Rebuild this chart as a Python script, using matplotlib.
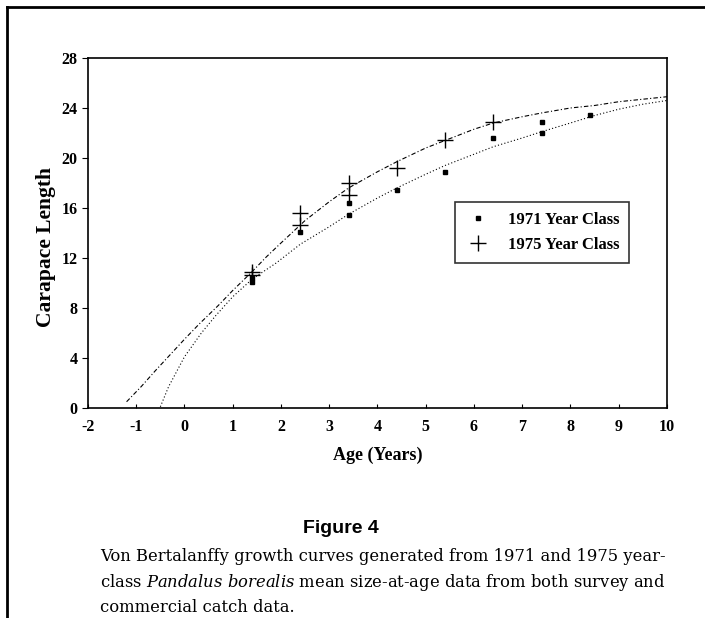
import matplotlib.pyplot as plt
from matplotlib.lines import Line2D

plt.rcParams["axes.unicode_minus"] = False
plt.rcParams["mathtext.fontset"] = "custom"
plt.rcParams["mathtext.it"] = "DejaVu Serif:italic"
plt.rcParams["mathtext.rm"] = "DejaVu Serif"

age_1971 = [1.4, 1.4, 2.4, 3.4, 3.4, 4.4, 5.4, 6.4, 7.4, 7.4, 8.4]
len_1971 = [10.1, 10.4, 14.1, 15.4, 16.4, 17.4, 18.9, 21.6, 22.0, 22.9, 23.4]

age_1975 = [1.4, 1.4, 2.4, 2.4, 3.4, 3.4, 4.4, 5.4, 6.4]
len_1975 = [10.6, 10.9, 14.6, 15.6, 17.0, 18.0, 19.2, 21.4, 22.9]

# fitted growth curves
curve_age_1975 = [-1.2, -0.9, -0.6, 0.0, 0.3, 0.7, 1.0, 1.4, 1.7, 2.0, 2.5, 3.0, 3.4,
                  4.0, 4.4, 5.0, 5.4, 6.0, 6.4, 7.0, 7.4, 8.0, 8.5, 9.0, 9.5, 10.0]
curve_len_1975 = [0.5, 1.7, 3.0, 5.5, 6.7, 8.2, 9.4, 10.9, 12.1, 13.2, 15.0, 16.5, 17.6,
                  18.9, 19.7, 20.8, 21.4, 22.3, 22.8, 23.3, 23.6, 24.0, 24.2, 24.5, 24.7, 24.9]

curve_age_1971 = [-0.5, -0.33, 0.0, 0.35, 0.65, 1.0, 1.4, 1.9, 2.4, 3.0, 3.4, 4.0,
                  4.4, 5.0, 5.4, 6.0, 6.4, 7.0, 7.4, 8.0, 8.5, 9.0, 9.5, 10.0]
curve_len_1971 = [0.1, 1.7, 4.1, 6.0, 7.4, 8.9, 10.3, 11.6, 13.1, 14.5, 15.5, 16.8,
                  17.6, 18.7, 19.4, 20.3, 20.9, 21.6, 22.1, 22.8, 23.4, 23.9, 24.3, 24.6]

xticks = list(range(-2, 11))
yticks = list(range(0, 29, 4))

caption = ("Von Bertalanffy growth curves generated from 1971 and 1975 year-\n"
           "class $\\it{Pandalus}$ $\\it{borealis}$ mean size-at-age data from both survey and\n"
           "commercial catch data.")

serif = ["Liberation Serif", "DejaVu Serif"]

fig = plt.figure(figsize=(7.05, 6.18), dpi=100)
ax = fig.add_axes([0.1248, 0.3398, 0.8213, 0.5664])

ax.plot(curve_age_1975, curve_len_1975, color="black", lw=0.8, ls=(0, (4, 2, 1, 2)))
ax.plot(curve_age_1971, curve_len_1971, color="black", lw=0.8, ls=(0, (1, 2)))
ax.plot(age_1971, len_1971, ls="none", marker="s", ms=3, color="black",
        label="1971 Year Class")
ax.plot(age_1975, len_1975, ls="none", marker="+", ms=11, mew=1, color="black",
        label="1975 Year Class")

ax.set_xlim(-2, 10)
ax.set_ylim(0, 28)
ax.set_xticks(xticks)
ax.set_yticks(yticks)
ax.tick_params(axis="x", direction="in", length=3, pad=8)
ax.tick_params(axis="y", direction="out", length=4)
for lab in ax.get_xticklabels() + ax.get_yticklabels():
    lab.set_family(serif)
    lab.set_fontweight("bold")
    lab.set_fontsize(11.5)
for sp in ax.spines.values():
    sp.set_linewidth(1.2)

ax.set_xlabel("Age (Years)", family=serif, fontweight="bold", fontsize=13, labelpad=8)
ax.set_ylabel("Carapace Length", family=serif, fontweight="bold", fontsize=15.5)
ax.yaxis.set_label_coords(-0.056, 0.46)

leg = ax.legend(loc="upper left", bbox_to_anchor=(0.633, 0.589), frameon=True,
                fancybox=False, edgecolor="black", handlelength=1.6,
                handletextpad=1.0, borderpad=0.6, labelspacing=0.55,
                borderaxespad=0,
                prop={"family": serif, "weight": "bold", "size": 12})
leg.get_frame().set_linewidth(1.2)

fig.text(0.483, 0.145, "Figure 4", ha="center", va="center",
         family=["Liberation Sans", "DejaVu Sans"], fontweight="bold", fontsize=14)
fig.text(0.142, 0.113, caption, ha="left", va="top",
         family=["DejaVu Serif"], fontsize=11.8, linespacing=1.45)

# page border (top and left edge of the scanned box)
fig.add_artist(Line2D([0.01, 1.0], [0.989, 0.989], color="black", lw=2))
fig.add_artist(Line2D([0.01, 0.01], [0.0, 0.989], color="black", lw=2))

fig.savefig("out.png", dpi=100)
